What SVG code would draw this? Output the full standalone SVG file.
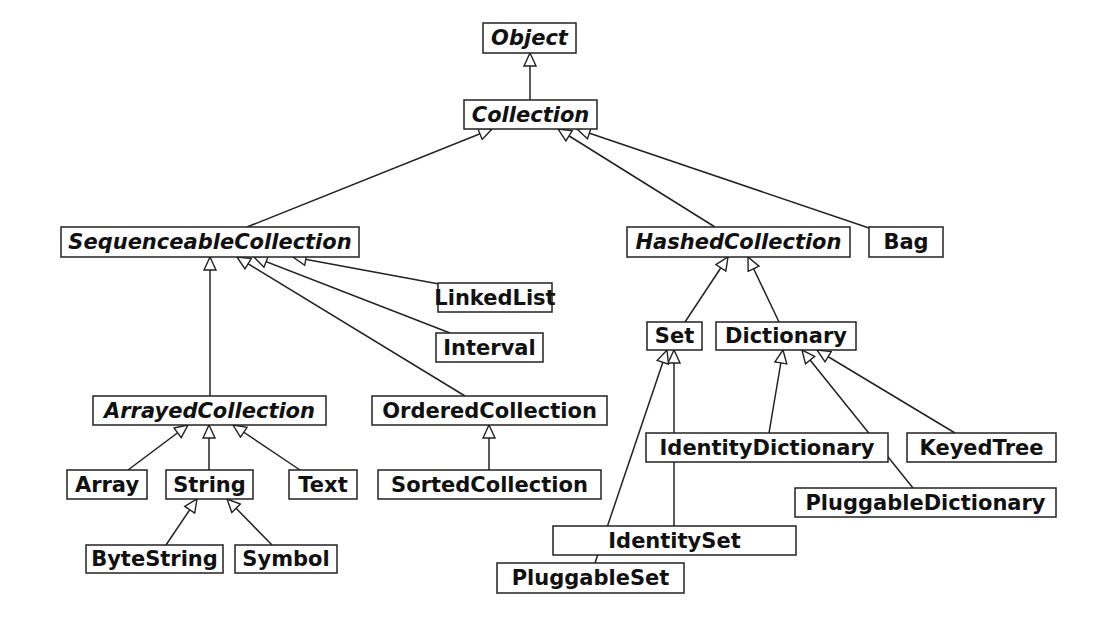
<svg xmlns="http://www.w3.org/2000/svg" width="1112" height="621" viewBox="0 0 1112 621">
<style>
.box{fill:#fff;stroke:#222;stroke-width:1.5}
.t{font-family:"DejaVu Sans",sans-serif;font-weight:bold;font-size:21px;fill:#111;text-anchor:middle}
.i{font-style:italic}
.c{fill:none;stroke:#222;stroke-width:1.5;marker-end:url(#tri)}
</style>
<defs>
<marker id="tri" viewBox="0 0 15 14" refX="14" refY="7" markerWidth="15" markerHeight="14" markerUnits="userSpaceOnUse" orient="auto">
<path d="M1,1 L14,7 L1,13 z" fill="#fff" stroke="#222" stroke-width="1.4"/>
</marker>
</defs>
<rect width="1112" height="621" fill="#fff"/>
<g id="connectors">
<line class="c" x1="530" y1="100" x2="530" y2="53"/>
<line class="c" x1="247" y1="227" x2="492" y2="129"/>
<line class="c" x1="715" y1="227" x2="558" y2="129"/>
<line class="c" x1="869" y1="228" x2="577" y2="129"/>
<line class="c" x1="128" y1="470" x2="188" y2="425"/>
<line class="c" x1="209" y1="470" x2="209" y2="425"/>
<line class="c" x1="300" y1="470" x2="233" y2="425"/>
<line class="c" x1="166" y1="545" x2="197" y2="499"/>
<line class="c" x1="272" y1="545" x2="227" y2="499"/>
<line class="c" x1="210" y1="396" x2="210" y2="257"/>
<line class="c" x1="465" y1="396" x2="237" y2="257"/>
<line class="c" x1="450" y1="333" x2="254" y2="257"/>
<line class="c" x1="439" y1="284" x2="293" y2="257"/>
<line class="c" x1="489" y1="470" x2="489" y2="425"/>
<line class="c" x1="685" y1="322" x2="728" y2="257"/>
<line class="c" x1="779" y1="322" x2="748" y2="257"/>
<line class="c" x1="674" y1="526" x2="674" y2="350"/>
<line class="c" x1="595" y1="563" x2="667" y2="350"/>
<line class="c" x1="769" y1="433" x2="783" y2="350"/>
<line class="c" x1="913" y1="488" x2="802" y2="350"/>
<line class="c" x1="955" y1="433" x2="817" y2="350"/>
</g>
<g id="Object"><rect class="box" x="483" y="23" width="93" height="30"/><text class="t i" x="529.5" y="45">Object</text></g>
<g id="Collection"><rect class="box" x="464" y="100" width="133" height="29"/><text class="t i" x="530.5" y="122">Collection</text></g>
<g id="SequenceableCollection"><rect class="box" x="61" y="227" width="298" height="30"/><text class="t i" x="210" y="249">SequenceableCollection</text></g>
<g id="HashedCollection"><rect class="box" x="627" y="227" width="223" height="30"/><text class="t i" x="738.5" y="249">HashedCollection</text></g>
<g id="Bag"><rect class="box" x="869" y="227" width="74" height="30"/><text class="t" x="906" y="249">Bag</text></g>
<g id="LinkedList"><rect class="box" x="438" y="283" width="114" height="29"/><text class="t" x="495" y="305">LinkedList</text></g>
<g id="Interval"><rect class="box" x="436" y="333" width="107" height="29"/><text class="t" x="489.5" y="355">Interval</text></g>
<g id="Set"><rect class="box" x="647" y="322" width="55" height="28"/><text class="t" x="674.5" y="343">Set</text></g>
<g id="Dictionary"><rect class="box" x="716" y="322" width="140" height="28"/><text class="t" x="786" y="343">Dictionary</text></g>
<g id="ArrayedCollection"><rect class="box" x="93" y="396" width="233" height="29"/><text class="t i" x="209.5" y="418">ArrayedCollection</text></g>
<g id="OrderedCollection"><rect class="box" x="372" y="396" width="235" height="29"/><text class="t" x="489.5" y="418">OrderedCollection</text></g>
<g id="IdentityDictionary"><rect class="box" x="646" y="433" width="242" height="29"/><text class="t" x="767" y="455">IdentityDictionary</text></g>
<g id="KeyedTree"><rect class="box" x="907" y="433" width="149" height="29"/><text class="t" x="981.5" y="455">KeyedTree</text></g>
<g id="Array"><rect class="box" x="67" y="470" width="80" height="29"/><text class="t" x="107" y="492">Array</text></g>
<g id="String"><rect class="box" x="166" y="470" width="87" height="29"/><text class="t" x="209.5" y="492">String</text></g>
<g id="Text"><rect class="box" x="289" y="470" width="68" height="29"/><text class="t" x="323" y="492">Text</text></g>
<g id="SortedCollection"><rect class="box" x="378" y="470" width="223" height="29"/><text class="t" x="489.5" y="492">SortedCollection</text></g>
<g id="PluggableDictionary"><rect class="box" x="795" y="488" width="261" height="29"/><text class="t" x="925.5" y="510">PluggableDictionary</text></g>
<g id="IdentitySet"><rect class="box" x="553" y="526" width="243" height="29"/><text class="t" x="674.5" y="548">IdentitySet</text></g>
<g id="ByteString"><rect class="box" x="86" y="545" width="137" height="28"/><text class="t" x="154.5" y="566">ByteString</text></g>
<g id="Symbol"><rect class="box" x="235" y="545" width="102" height="28"/><text class="t" x="286" y="566">Symbol</text></g>
<g id="PluggableSet"><rect class="box" x="497" y="563" width="187" height="30"/><text class="t" x="590.5" y="585">PluggableSet</text></g>
</svg>
